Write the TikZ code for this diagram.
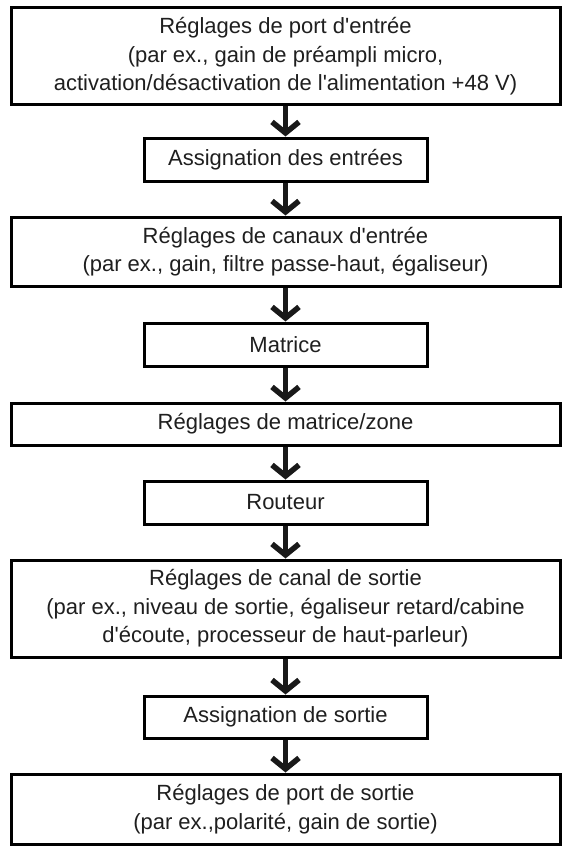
\documentclass[tikz,border=0pt]{standalone}
\usepackage{fontspec}
\setmainfont{Liberation Sans}
\usetikzlibrary{arrows.meta}
\newcommand{\q}{\textquotesingle}
\begin{document}
\begin{tikzpicture}[x=1pt,y=-1pt,
  box/.style={draw=black, line width=3pt, fill=white, inner sep=0pt, align=center,
    font=\fontsize{22}{28.5}\selectfont, text=black!88},
  wide/.style={box, minimum width=549pt},
  narrow/.style={box, minimum width=283pt},
  arr/.style={draw=black!90, line width=5.5pt, -{Straight Barb[length=11pt,width=27pt]}}]
\useasboundingbox (0,0) rectangle (568,848);
\node[wide, minimum height=97pt] (b1) at (285.5,56.5) {Réglages de port d\q entrée\\(par ex., gain de préampli micro,\\activation/désactivation de l\q alimentation +48 V)};
\node[narrow, minimum height=43pt] (b2) at (285.5,159.5) {Assignation des entrées};
\node[wide, minimum height=69pt] (b3) at (285.5,251.5) {Réglages de canaux d\q entrée\\(par ex., gain, filtre passe-haut, égaliseur)};
\node[narrow, minimum height=43pt] (b4) at (285.5,344.5) {Matrice};
\node[wide, minimum height=42pt] (b5) at (285.5,424) {Réglages de matrice/zone};
\node[narrow, minimum height=43pt] (b6) at (285.5,502.5) {Routeur};
\node[wide, minimum height=97pt] (b7) at (285.5,608.5) {Réglages de canal de sortie\\(par ex., niveau de sortie, égaliseur retard/cabine\\d\q écoute, processeur de haut-parleur)};
\node[narrow, minimum height=42pt] (b8) at (285.5,717) {Assignation de sortie};
\node[wide, minimum height=70pt] (b9) at (285.5,809) {Réglages de port de sortie\\(par ex.,polarité, gain de sortie)};
\foreach \a/\b in {b1/b2,b2/b3,b3/b4,b4/b5,b5/b6,b6/b7,b7/b8,b8/b9}
  \draw[arr] (\a.south) -- (\b.north);
\end{tikzpicture}
\end{document}
